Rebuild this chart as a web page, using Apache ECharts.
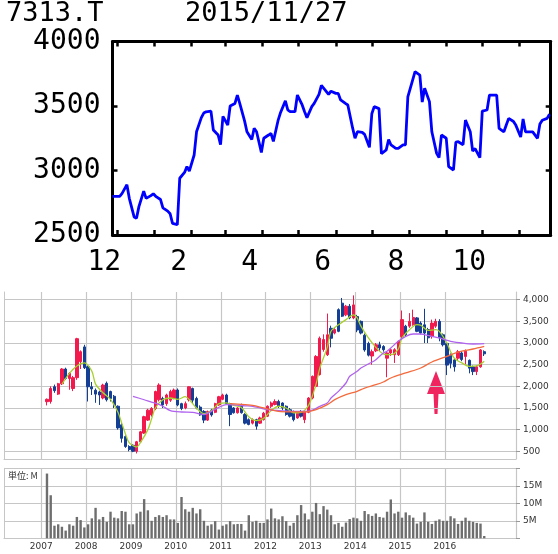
<!DOCTYPE html>
<html><head><meta charset="utf-8">
<script src="https://cdn.jsdelivr.net/npm/echarts@6/dist/echarts.min.js"></script>
<style>html,body{margin:0;padding:0;background:#fff}#c{width:558px;height:554px}</style>
</head><body><div id="c"></div>
<script>
// ---------- top chart: daily close 2014/11/27 - 2015/11/27 (every 2nd trading day) ----------
const tickerText = '7313.T';
const dateText = '2015/11/27';
const dailyClose = [
2800,2800,2800,2823,2890,2784,2640,2630,2720,2840,
2784,2805,2820,2800,2775,2710,2685,2665,2590,2580,
2940,2985,3030,2995,3120,3300,3410,3445,3455,3460,
3314,3275,3200,3420,3353,3500,3520,3585,3520,3385,
3300,3240,3327,3300,3140,3250,3275,3288,3225,3391,
3450,3540,3470,3456,3456,3585,3508,3456,3410,3495,
3520,3590,3660,3637,3590,3615,3598,3598,3547,3520,
3508,3330,3250,3301,3296,3280,3180,3440,3495,3480,
3130,3160,3240,3198,3172,3172,3198,3198,3570,3700,
3766,3740,3530,3637,3534,3300,3133,3100,3275,3250,
3030,3004,3220,3223,3200,3391,3301,3150,3170,3100,
3460,3469,3585,3585,3585,3327,3300,3353,3404,3380,
3350,3260,3400,3300,3300,3300,3249,3360,3390,3404,3436];
const topYTicks = [2500, 3000, 3500, 4000];

// ---------- bottom chart: monthly candles Feb 2007 - Nov 2016 ----------
const firstMonth = '2007-02';
const opens = [
1645,1650,1990,1820,2060,2400,2180,1950,2200,2570,2910,
2450,1990,1910,1870,1730,2070,1880,1770,1540,1110,840,610,
640,500,720,920,1220,1340,1490,1690,1720,1600,1680,1720,
1915,1600,1500,1690,1950,1720,1520,1420,1220,1450,1400,1570,
1700,1800,1600,1500,1390,1570,1350,1230,1150,1230,1150,1230,
1310,1540,1580,1650,1615,1540,1460,1420,1270,1420,1230,1400,
1730,2000,2270,2850,2730,3340,3230,3770,3920,3650,3850,3580,
3610,3500,3180,2990,2700,2820,2960,2920,2650,2770,2730,2730,
3150,3390,3390,3420,3580,3460,3420,3310,3150,3390,3500,3190,
2990,2720,2610,2650,2770,2690,2600,2450,2340,2450,2800];
const closes = [
1700,1950,1900,2060,2400,2180,2300,2200,3100,2800,2430,
1990,1940,1820,1800,2030,1690,1720,1560,1040,800,610,540,
500,720,950,1300,1450,1490,1880,2030,1570,1800,1880,1915,
1570,1490,1600,1990,1680,1500,1340,1220,1420,1340,1600,1760,
1800,1600,1350,1390,1500,1390,1150,1120,1230,1080,1270,1380,
1540,1615,1650,1540,1500,1350,1310,1230,1380,1310,1420,1730,
2230,2690,3110,3080,3190,3110,3310,3270,3620,3850,3580,3880,
3300,3230,2840,2720,2800,2960,2885,2846,2770,2846,2846,3040,
3540,3190,3500,3590,3270,3230,3230,3120,3460,3500,3120,2960,
2490,2530,2450,2800,2620,2810,2420,2340,2450,2840,2750];
const lows = [
1560,1600,1850,1800,2030,2150,1920,1890,2150,2400,2400,
1650,1800,1620,1570,1700,1650,1650,1500,1000,700,580,500,
480,450,700,900,1200,1300,1450,1650,1500,1550,1640,1700,
1540,1450,1470,1650,1600,1470,1320,1150,1200,1300,1380,1550,
1680,1580,1080,1370,1370,1370,1120,1100,1120,1000,1130,1210,
1290,1500,1560,1500,1450,1320,1280,1190,1250,1280,1150,1380,
1700,1980,2250,2800,2700,2900,3200,3250,3600,3620,3550,3550,
3250,3200,2800,2690,2500,2790,2820,2800,2210,2700,2540,2700,
3100,3150,3350,3400,3250,3200,3000,3000,3100,3350,3040,2920,
2260,2415,2340,2600,2580,2500,2300,2260,2260,2430,2700];
const highs = [
1720,2000,2040,2080,2420,2430,2330,2240,3120,2830,2960,
2480,2100,1950,1900,2060,2110,1900,1800,1560,1150,870,640,
660,740,970,1320,1480,1520,1900,2070,1760,1830,1920,1950,
1950,1620,1650,2000,1970,1760,1560,1450,1440,1480,1620,1780,
1830,1830,1620,1520,1520,1600,1380,1260,1260,1250,1300,1410,
1560,1650,1700,1690,1630,1560,1500,1440,1420,1450,1440,1750,
2250,2720,3150,3200,3680,3400,3350,3800,4040,3880,3900,4100,
3650,3520,3220,3030,2850,3000,3030,2950,2800,2880,2880,3060,
3750,3420,3690,3770,3600,3500,3790,3350,3540,3560,3550,3220,
3010,2760,2640,2840,2810,2850,2620,2480,2480,2860,2830];
// volume in millions
const volumes = [
18.5,12.3,3.6,4.0,3.3,2.2,4.0,3.6,6.1,5.2,3.1,
4.0,5.7,8.7,5.4,6.1,4.7,7.6,5.9,5.7,7.8,7.6,4.0,
4.0,7.1,7.6,11.2,8.0,5.0,6.1,6.6,6.1,6.6,5.4,5.4,
4.4,11.8,8.3,7.6,8.7,7.1,8.3,5.0,3.6,4.0,4.9,2.5,
3.6,4.0,4.9,4.0,4.1,4.1,2.2,6.6,4.7,5.0,4.4,4.4,
5.4,8.5,5.7,5.4,6.3,4.9,3.6,4.4,6.6,9.5,7.1,5.4,
7.6,10.1,6.9,9.2,8.2,6.6,4.0,4.4,3.3,4.5,5.5,5.9,
5.7,5.0,7.8,6.9,6.4,7.1,6.1,5.9,7.6,11.1,7.1,7.6,
5.9,7.4,6.6,5.9,4.2,4.7,7.4,4.7,4.1,5.0,5.4,5.0,
5.0,6.3,5.7,4.1,5.0,5.9,5.0,4.7,4.4,4.2,0.65];
// moving averages
const maShort = [['2007-06',2050],['2007-08',2300],['2007-10',2470],['2007-12',2540],['2008-02',2350],['2008-03',2050],['2008-05',1850],['2008-07',1700],['2008-09',1400],['2008-10',1150],['2008-11',900],['2008-12',700],['2009-02',600],['2009-03',700],['2009-05',1000],['2009-06',1250],['2009-07',1500],['2009-09',1690],['2009-11',1730],['2010-01',1700],['2010-03',1760],['2010-04',1700],['2010-06',1500],['2010-08',1370],['2010-10',1440],['2010-12',1600],['2011-02',1620],['2011-04',1560],['2011-06',1510],['2011-08',1300],['2011-10',1210],['2011-12',1260],['2012-02',1440],['2012-04',1540],['2012-06',1500],['2012-08',1390],['2012-10',1400],['2012-12',1560],['2013-02',2050],['2013-03',2420],['2013-05',2900],['2013-06',3270],['2013-08',3420],['2013-10',3540],['2013-12',3650],['2014-01',3580],['2014-02',3390],['2014-04',3116],['2014-06',2900],['2014-08',2750],['2014-10',2730],['2014-12',2860],['2015-01',3116],['2015-03',3308],['2015-05',3423],['2015-06',3410],['2015-08',3290],['2015-10',3310],['2015-11',3270],['2016-01',3000],['2016-02',2800],['2016-03',2650],['2016-05',2540],['2016-07',2462],['2016-09',2470],['2016-11',2577]];
const maMid = [['2009-01',1770],['2009-04',1690],['2009-07',1610],['2009-09',1540],['2009-11',1440],['2010-02',1407],['2010-05',1400],['2010-07',1361],['2010-08',1346],['2010-10',1422],['2010-12',1515],['2011-02',1576],['2011-04',1570],['2011-07',1550],['2011-09',1538],['2011-11',1500],['2012-01',1461],['2012-04',1440],['2012-08',1422],['2012-11',1420],['2013-01',1450],['2013-03',1538],['2013-05',1615],['2013-06',1730],['2013-08',1884],['2013-10',2077],['2013-11',2231],['2014-01',2346],['2014-02',2423],['2014-04',2515],['2014-06',2615],['2014-08',2770],['2014-09',2808],['2014-10',2885],['2014-12',3039],['2015-02',3154],['2015-04',3208],['2015-06',3208],['2015-07',3193],['2015-09',3154],['2015-11',3116],['2016-01',3062],['2016-02',3039],['2016-05',3000],['2016-08',2977],['2016-11',2985]];
const maLong = [['2011-03',1600],['2011-05',1590],['2011-09',1561],['2011-12',1500],['2012-04',1422],['2012-08',1410],['2012-11',1407],['2013-02',1461],['2013-05',1576],['2013-07',1692],['2013-10',1807],['2014-01',1884],['2014-03',1961],['2014-06',2038],['2014-08',2100],['2014-10',2192],['2015-02',2308],['2015-06',2423],['2015-09',2562],['2016-01',2692],['2016-04',2792],['2016-08',2862],['2016-11',2923]];
const candleTicks = [500,1000,1500,2000,2500,3000,3500,4000];
const volumeTicks = [5,10,15];
const yearLabels = ['2007','2008','2009','2010','2011','2012','2013','2014','2015','2016'];

// ---------- helpers / categories ----------
const ymd = t => new Date(t).toISOString().slice(0,10);
const days = [];
for (let t = Date.UTC(2014,10,27); t <= Date.UTC(2015,10,27); t += 864e5) days.push(ymd(t));
const weekdays = days.filter(s => { const g = new Date(s + 'T00:00:00Z').getUTCDay(); return g !== 0 && g !== 6; });
const lineData = dailyClose.map((v, k) => [weekdays[2 * k], v]);

function monthStr(y, m) { return y + '-' + String(m).padStart(2, '0'); }
const months = [];
{ let y = 2006, m = 3; while (y < 2017 || (y === 2017 && m <= 7)) { months.push(monthStr(y, m)); m++; if (m > 12) { m = 1; y++; } } }
const m0 = months.indexOf(firstMonth);
const candleData = opens.map((o, i) => [months[m0 + i], o, closes[i], lows[i], highs[i]]);
const volData = volumes.map((v, i) => [months[m0 + i], v]);

const UP = '#f21a4c', DOWN = '#143f95', GRIDC = '#c6c6c6';
const MONO = 'DejaVu Sans Mono';
const LBL = { fontFamily: 'DejaVu Sans', fontSize: 9, color: '#333' };
const isYearStart = (i, v) => v.endsWith('-01') && yearLabels.includes(v.slice(0, 4));

const chart = echarts.init(document.getElementById('c'));
chart.setOption({
  animation: false,
  grid: [
    { left: 112.5, top: 41.5, width: 438.2, height: 193.5 },
    { left: 4, top: 292, width: 512, height: 167 },
    { left: 4, top: 468.3, width: 512, height: 70 }
  ],
  xAxis: [
    { gridIndex: 0, type: 'category', data: days, boundaryGap: false, position: 'bottom',
      axisLine: { lineStyle: { color: '#000', width: 3 } },
      axisTick: { inside: true, length: 5, interval: (i, v) => v.endsWith('-01'), lineStyle: { color: '#000', width: 2.5 } },
      axisLabel: { interval: (i, v) => v.endsWith('-01') && (+v.slice(5, 7)) % 2 === 0,
        formatter: v => String(+v.slice(5, 7)), fontFamily: MONO, fontSize: 28, color: '#000', margin: 14, padding: [0, 26, 0, 0] },
      splitLine: { show: false } },
    { gridIndex: 0, type: 'category', data: days, boundaryGap: false, position: 'top',
      axisLine: { lineStyle: { color: '#000', width: 3 } },
      axisTick: { inside: true, length: 5, interval: (i, v) => v.endsWith('-01'), lineStyle: { color: '#000', width: 2.5 } },
      axisLabel: { show: false }, splitLine: { show: false } },
    { gridIndex: 1, type: 'category', data: months, boundaryGap: true,
      axisLine: { lineStyle: { color: GRIDC } }, axisTick: { show: false }, axisLabel: { show: false },
      splitLine: { show: true, interval: isYearStart, lineStyle: { color: GRIDC, width: 1.2 } } },
    { gridIndex: 2, type: 'category', data: months, boundaryGap: true,
      axisLine: { lineStyle: { color: GRIDC } }, axisTick: { show: false },
      axisLabel: Object.assign({ interval: isYearStart, formatter: v => v.slice(0, 4), margin: 4, padding: [0, 4, 0, 0] }, LBL),
      splitLine: { show: true, interval: isYearStart, lineStyle: { color: GRIDC, width: 1.2 } } }
  ],
  yAxis: [
    { gridIndex: 0, type: 'value', min: topYTicks[0], max: topYTicks[topYTicks.length - 1], interval: 500, position: 'left',
      axisLine: { show: true, lineStyle: { color: '#000', width: 3 } },
      axisTick: { show: true, inside: true, length: 5, lineStyle: { color: '#000', width: 2.5 } },
      axisLabel: { fontFamily: MONO, fontSize: 28, color: '#000', margin: 12, formatter: v => String(v) }, splitLine: { show: false } },
    { gridIndex: 0, type: 'value', min: topYTicks[0], max: topYTicks[topYTicks.length - 1], interval: 500, position: 'right',
      axisLine: { show: true, lineStyle: { color: '#000', width: 3 } },
      axisTick: { show: true, inside: true, length: 5, lineStyle: { color: '#000', width: 2.5 } },
      axisLabel: { show: false }, splitLine: { show: false } },
    { gridIndex: 1, type: 'value', min: 322, max: 4178, splitNumber: 8, position: 'right',
      axisLine: { show: true, lineStyle: { color: GRIDC } },
      axisTick: { show: true, length: 4, lineStyle: { color: '#999' } },
      axisLabel: Object.assign({ margin: 7, showMinLabel: false, showMaxLabel: false,
        formatter: v => candleTicks.includes(v) ? v.toLocaleString('en-US') : '' }, LBL),
      splitLine: { show: true, showMinLine: false, showMaxLine: false, lineStyle: { color: GRIDC, width: 1.2 } } },
    { gridIndex: 1, type: 'value', min: 322, max: 4178, position: 'left',
      axisLine: { show: true, lineStyle: { color: GRIDC } }, axisTick: { show: false }, axisLabel: { show: false }, splitLine: { show: false } },
    { gridIndex: 2, type: 'value', min: 0, max: 20, interval: 5, position: 'right',
      axisLine: { show: true, lineStyle: { color: GRIDC } },
      axisTick: { show: true, length: 4, lineStyle: { color: '#999' } },
      axisLabel: Object.assign({ margin: 7, formatter: v => volumeTicks.includes(v) ? v + 'M' : '' }, LBL),
      splitLine: { show: true, lineStyle: { color: GRIDC, width: 1.2 } } },
    { gridIndex: 2, type: 'value', min: 0, max: 20, position: 'left',
      axisLine: { show: true, lineStyle: { color: GRIDC } }, axisTick: { show: false }, axisLabel: { show: false }, splitLine: { show: false } }
  ],
  series: [
    { type: 'line', xAxisIndex: 0, yAxisIndex: 0, data: lineData, showSymbol: false,
      lineStyle: { color: '#0000ff', width: 2.8 }, itemStyle: { color: '#0000ff' } },
    { type: 'candlestick', xAxisIndex: 2, yAxisIndex: 2, data: candleData,
      dimensions: ['month', 'open', 'close', 'lowest', 'highest'],
      encode: { x: 'month', y: ['open', 'close', 'lowest', 'highest'] },
      barWidth: 2.8,
      itemStyle: { color: UP, color0: DOWN, borderColor: UP, borderColor0: DOWN, borderWidth: 1 } },
    { type: 'line', xAxisIndex: 2, yAxisIndex: 2, data: maShort, showSymbol: false, smooth: 0.3,
      lineStyle: { color: '#a8d030', width: 1.3 } },
    { type: 'line', xAxisIndex: 2, yAxisIndex: 2, data: maMid, showSymbol: false, smooth: 0.3,
      lineStyle: { color: '#b063ee', width: 1.3 } },
    { type: 'line', xAxisIndex: 2, yAxisIndex: 2, data: maLong, showSymbol: false, smooth: 0.3,
      lineStyle: { color: '#f46a3c', width: 1.3 } },
    { type: 'bar', xAxisIndex: 3, yAxisIndex: 4, data: volData, barWidth: 2.4,
      itemStyle: { color: '#6e6e6e' } }
  ],
  graphic: [
    { type: 'text', x: 6, y: 0, style: { text: tickerText, font: '27px "DejaVu Sans Mono"', fill: '#000' } },
    { type: 'text', x: 185, y: 0, style: { text: dateText, font: '27px "DejaVu Sans Mono"', fill: '#000' } },
    { type: 'text', x: 8, y: 471, style: { text: '単位: M', font: '9px "Noto Sans CJK JP"', fill: '#333' } },
    { type: 'polygon', shape: { points: [[436, 371], [445, 394], [438.5, 394], [437.5, 414], [434.5, 414], [433.5, 394], [427, 394]] },
      style: { fill: '#f0245f' } }
  ]
});
</script></body></html>
